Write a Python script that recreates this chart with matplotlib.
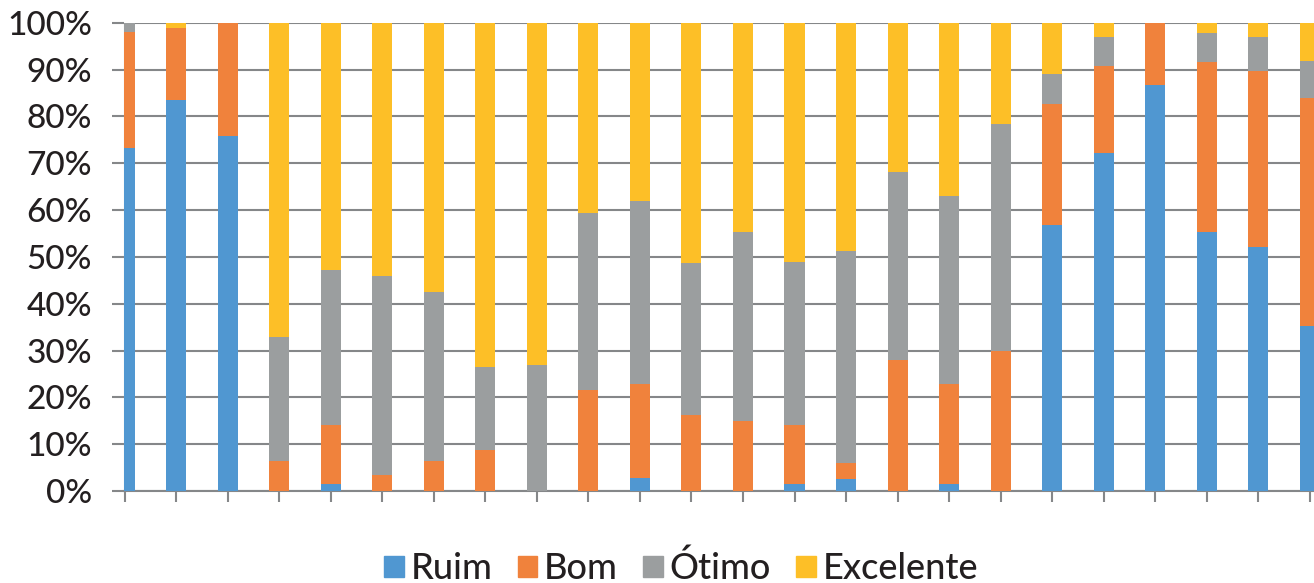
import numpy as np
import matplotlib.pyplot as plt
from matplotlib.patches import Patch
from matplotlib.ticker import PercentFormatter

# share of answers per item (percent)
ruim = [73.3, 83.6, 75.8, 0, 1.4, 0, 0, 0, 0, 0, 2.7, 0,
        0, 1.4, 2.6, 0, 1.4, 0, 56.8, 72.2, 86.8, 55.2, 52.2, 35.2]
bom = [24.7, 15.2, 24.2, 6.3, 12.7, 3.4, 6.5, 8.8, 0, 21.6, 20.1, 16.2,
       14.9, 12.6, 3.4, 28.0, 21.4, 29.9, 25.8, 18.6, 13.2, 36.5, 37.5, 48.8]
otimo = [2.0, 0, 0, 26.5, 33.0, 42.5, 36.0, 17.7, 26.9, 37.8, 39.1, 32.4,
         40.5, 35.0, 45.2, 40.2, 40.1, 48.4, 6.5, 6.1, 0, 6.2, 7.2, 7.8]
excelente = [0, 1.2, 0, 67.2, 52.9, 54.1, 57.5, 73.5, 73.1, 40.6, 38.1, 51.4,
             44.6, 51.0, 48.8, 31.8, 37.1, 21.7, 10.9, 3.1, 0, 2.1, 3.1, 8.2]

series = ["Ruim", "Bom", "Ótimo", "Excelente"]
colors = ["#5097d1", "#f0823c", "#9b9e9f", "#fdbf27"]

plt.rcParams["font.family"] = ["Lato", "DejaVu Sans"]
plt.rcParams["font.weight"] = "medium"
text_color = "#231f20"
grid_color = "#858789"

fig = plt.figure(figsize=(13.14, 5.83), dpi=100)
ax = fig.add_axes([124 / 1314, 92 / 583, 1 - 124 / 1314, (560.3 - 92) / 583])

x = np.arange(len(ruim))
bottom = np.zeros(len(ruim))
for name, vals, c in zip(series, [ruim, bom, otimo, excelente], colors):
    vals = np.array(vals, dtype=float)
    ax.bar(x, vals, width=0.39, bottom=bottom, color=c, zorder=3, label=name)
    bottom += vals

ax.set_xlim(-0.01, 23.08)
ax.set_ylim(0, 100)
ax.set_yticks(np.arange(0, 101, 10))
ax.yaxis.set_major_formatter(PercentFormatter(decimals=0))
ax.set_xticks(x)
ax.set_xticklabels([])

ax.grid(axis="y", color=grid_color, linewidth=1.5, zorder=0)
for side in ["top", "right"]:
    ax.spines[side].set_visible(False)
ax.spines["bottom"].set_color(grid_color)
ax.spines["bottom"].set_linewidth(1.5)
ax.spines["left"].set_color("#b5b7b8")
ax.spines["left"].set_linewidth(0.8)

ax.tick_params(axis="y", direction="out", length=9, width=1.5, color=grid_color,
               pad=14, labelsize=24, labelcolor=text_color)
ax.tick_params(axis="x", direction="out", length=8, width=1.5, color=grid_color)

handles = [Patch(color=c, label=s) for s, c in zip(series, colors)]
fig.legend(handles=handles, loc="center", bbox_to_anchor=(681 / 1314, 1 - 568 / 583),
           ncol=4, frameon=False, fontsize=26, labelcolor=text_color,
           handlelength=0.55, handleheight=0.55, handletextpad=0.18,
           columnspacing=0.7, borderaxespad=0, borderpad=0)

fig.savefig("out.png", dpi=100)
